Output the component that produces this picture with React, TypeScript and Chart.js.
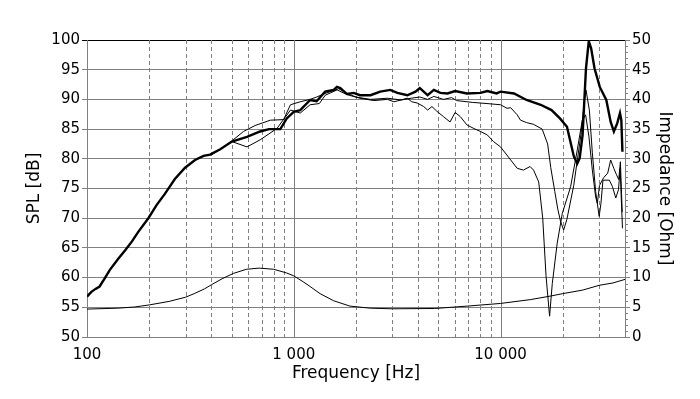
import React, { useEffect, useRef } from "react";
import { Chart, registerables } from "chart.js";

Chart.register(...registerables);

// ---- Data ----
const mainFreq = [100, 105, 110, 115, 122, 129, 141, 153, 165, 177, 198, 217, 238, 266, 298, 333, 366, 394, 441, 502, 594, 688, 760, 861, 925, 1000, 1075, 1200, 1290, 1418, 1560, 1617, 1680, 1810, 1950, 2090, 2350, 2620, 2930, 3170, 3540, 3880, 4070, 4440, 4760, 5120, 5540, 6030, 6880, 8000, 8640, 9570, 10000, 11620, 13360, 15640, 17650, 19380, 20960, 21770, 22630, 23500, 24150, 24940, 25900, 26720, 27430, 28500, 30200, 32480, 34100, 35340, 36700, 37820, 38400, 38870];
const mainSpl = [56.8, 57.6, 58.1, 58.5, 59.9, 61.3, 63.1, 64.6, 66.1, 67.7, 70.0, 72.2, 74.1, 76.6, 78.5, 79.8, 80.5, 80.7, 81.6, 82.9, 83.7, 84.6, 85.0, 85.0, 86.8, 87.9, 88.2, 89.9, 89.7, 91.3, 91.6, 92.1, 91.9, 90.9, 91.1, 90.7, 90.7, 91.3, 91.6, 91.1, 90.7, 91.3, 91.9, 90.7, 91.6, 91.1, 91.0, 91.4, 91.0, 91.1, 91.4, 91.0, 91.3, 91.0, 89.9, 89.1, 88.2, 86.8, 85.4, 82.9, 80.4, 79.2, 80.1, 84.0, 95.2, 99.8, 98.6, 95.2, 92.1, 89.9, 86.2, 84.6, 86.0, 87.7, 86.5, 81.2];

const offAFreq = [400, 441, 502, 571, 650, 770, 893, 964, 1075, 1200, 1290, 1418, 1560, 1650, 1810, 2000, 2350, 2840, 3300, 3700, 4070, 4440, 4760, 5300, 5800, 6130, 7300, 8600, 10000, 10750, 11200, 12040, 12500, 13360, 14450, 15900, 16900, 17500, 18300, 18930, 19500, 20200, 20940, 22600, 24470, 25400, 25900, 26900, 27800, 28840, 30000, 30600, 31300, 33600, 34800, 36100, 37200, 37900, 38500, 38900];
const offASpl = [80.7, 81.6, 83.0, 84.6, 85.6, 86.5, 86.6, 89.1, 89.6, 90.0, 90.4, 91.0, 91.5, 91.8, 91.0, 90.4, 90.0, 90.2, 89.9, 90.2, 90.4, 90.0, 90.5, 90.0, 90.3, 89.8, 89.5, 89.3, 89.1, 88.5, 88.6, 87.4, 86.5, 86.1, 85.8, 85.0, 82.5, 78.5, 74.5, 71.5, 69.5, 68.0, 69.8, 75.5, 84.0, 89.5, 91.6, 88.2, 81.0, 74.5, 70.3, 72.5, 76.4, 76.4, 75.3, 73.4, 74.8, 78.4, 72.0, 68.3];

const offBFreq = [400, 441, 502, 594, 688, 829, 964, 1075, 1200, 1330, 1420, 1620, 1810, 2090, 2440, 2840, 3050, 3300, 3540, 3720, 3950, 4250, 4440, 4660, 4920, 5300, 5700, 6030, 6390, 6880, 7430, 8000, 8640, 9250, 10000, 11200, 12040, 12900, 13900, 14450, 15300, 16000, 16600, 17270, 17800, 18800, 19900, 21830, 23510, 24860, 25800, 26770, 27800, 28840, 29400, 30100, 31500, 33000, 34100, 35300, 36300, 37300, 38000, 38500, 38800];
const offBSpl = [80.7, 81.6, 82.9, 82.0, 83.2, 85.1, 88.2, 87.7, 89.1, 89.3, 90.7, 91.6, 90.8, 90.2, 89.8, 90.0, 89.6, 89.9, 90.2, 89.6, 89.4, 88.8, 88.2, 88.8, 88.0, 87.1, 86.2, 87.8, 87.1, 85.7, 85.1, 84.6, 84.0, 82.9, 82.0, 79.8, 78.4, 78.1, 78.7, 78.1, 76.1, 70.0, 60.3, 53.5, 59.0, 65.8, 70.8, 75.3, 81.5, 86.5, 87.4, 83.7, 78.1, 73.6, 72.5, 75.5, 76.8, 77.6, 79.8, 78.4, 77.4, 76.5, 79.5, 74.0, 71.0];

const impFreq = [100, 140, 170, 200, 250, 300, 330, 370, 400, 450, 510, 590, 680, 800, 920, 1000, 1110, 1200, 1340, 1560, 1870, 2350, 3000, 4800, 6900, 10000, 14000, 17500, 20000, 25000, 30000, 35000, 40000];
const impOhm = [4.7, 4.85, 5.05, 5.4, 6.0, 6.7, 7.3, 8.1, 8.8, 9.8, 10.7, 11.4, 11.6, 11.4, 10.8, 10.3, 9.3, 8.5, 7.3, 6.1, 5.2, 4.85, 4.75, 4.8, 5.2, 5.65, 6.3, 6.9, 7.3, 7.9, 8.7, 9.1, 9.7];

// ---- Axes ----
const xDecades = [100, 1000, 10000];
const xMultipliers = [1, 2, 3, 4, 5, 6, 7, 8, 9];
const xMin = 100;
const xMax = 40000;
const splMin = 50;
const splMax = 100;
const impMin = 0;
const impMax = 50;

const FONT = "'DejaVu Sans', Verdana, sans-serif";
const GRID = "#808080";

const pts = (fs: number[], vs: number[]) => fs.map((f, i) => ({ x: f, y: vs[i] }));
const fmt = (v: number) => String(v).replace(/\B(?=(\d{3})+(?!\d))/g, " ");

const gridPlugin = {
  id: "customGrid",
  beforeDatasetsDraw(chart: any) {
    const { ctx, chartArea, scales } = chart;
    const x = scales.x;
    ctx.save();
    ctx.lineWidth = 1;
    ctx.strokeStyle = GRID;
    for (const d of xDecades) {
      for (const m of xMultipliers) {
        const v = d * m;
        if (v <= x.min || v >= x.max) continue;
        const px = Math.round(x.getPixelForValue(v)) + 0.5;
        ctx.setLineDash(m === 1 ? [] : [4, 3]);
        ctx.beginPath();
        ctx.moveTo(px, chartArea.top);
        ctx.lineTo(px, chartArea.bottom);
        ctx.stroke();
      }
    }
    ctx.setLineDash([]);
    const y2 = scales.y2;
    for (let v = y2.min; v <= y2.max; v++) {
      if (v % 5 === 0) continue;
      const py = Math.round(y2.getPixelForValue(v)) + 0.5;
      ctx.beginPath();
      ctx.moveTo(chartArea.right, py);
      ctx.lineTo(chartArea.right + 3, py);
      ctx.stroke();
    }
    ctx.restore();
  },
};

export default function App() {
  const ref = useRef<HTMLCanvasElement>(null);
  useEffect(() => {
    if (!ref.current) return;
    const chart = new Chart(ref.current, {
      type: "line",
      data: {
        datasets: [
          { label: "SPL 0°", data: pts(mainFreq, mainSpl), borderColor: "#000", borderWidth: 2.4, pointRadius: 0, yAxisID: "y" },
          { label: "SPL A", data: pts(offAFreq, offASpl), borderColor: "#000", borderWidth: 1, pointRadius: 0, yAxisID: "y" },
          { label: "SPL B", data: pts(offBFreq, offBSpl), borderColor: "#000", borderWidth: 1, pointRadius: 0, yAxisID: "y" },
          { label: "Impedance", data: pts(impFreq, impOhm), borderColor: "#000", borderWidth: 1, pointRadius: 0, yAxisID: "y2" },
        ],
      },
      options: {
        animation: false,
        responsive: false,
        devicePixelRatio: 1,
        layout: { padding: { top: 40, left: 0, right: 0, bottom: 0 } },
        plugins: { legend: { display: false }, tooltip: { enabled: false } },
        scales: {
          x: {
            type: "logarithmic",
            min: xMin,
            max: xMax,
            afterBuildTicks: (s: any) => {
              s.ticks = xDecades.map((v) => ({ value: v }));
            },
            grid: { display: false, drawTicks: false },
            border: { display: true, color: GRID },
            ticks: {
              autoSkip: false,
              maxRotation: 0,
              minRotation: 0,
              padding: 9,
              color: "#000",
              font: { family: FONT, size: 15 },
              callback: (v: any) => fmt(Number(v)),
            },
            title: { display: true, text: "Frequency [Hz]", color: "#000", font: { family: FONT, size: 17 }, padding: { top: 0, bottom: 15 } },
            afterFit: (s: any) => {
              s.height = 62;
            },
          },
          y: {
            position: "left",
            min: splMin,
            max: splMax,
            ticks: { stepSize: 5, padding: 2, color: "#000", font: { family: FONT, size: 15 } },
            grid: { color: (c: any) => (c.tick && c.tick.value === splMax ? "#000" : GRID), tickLength: 5 },
            border: { color: GRID },
            title: { display: true, text: "SPL [dB]", color: "#000", font: { family: FONT, size: 17 }, padding: { top: 24, bottom: 0 } },
            afterFit: (s: any) => {
              s.width = 87;
            },
          },
          y2: {
            position: "right",
            min: impMin,
            max: impMax,
            ticks: { stepSize: 5, padding: 2, color: "#000", font: { family: FONT, size: 15 } },
            grid: { drawOnChartArea: false, color: GRID, tickLength: 5 },
            border: { color: GRID },
            title: { display: true, text: "Impedance [Ohm]", color: "#000", font: { family: FONT, size: 17 }, padding: { top: 25, bottom: 0 } },
            afterFit: (s: any) => {
              s.width = 75;
            },
          },
        },
      },
      plugins: [gridPlugin],
    } as any);
    return () => chart.destroy();
  }, []);
  return (
    <canvas
      ref={ref}
      width={700}
      height={399}
      style={{ position: "fixed", left: 0, top: 0, display: "block", background: "#fff" }}
    />
  );
}
